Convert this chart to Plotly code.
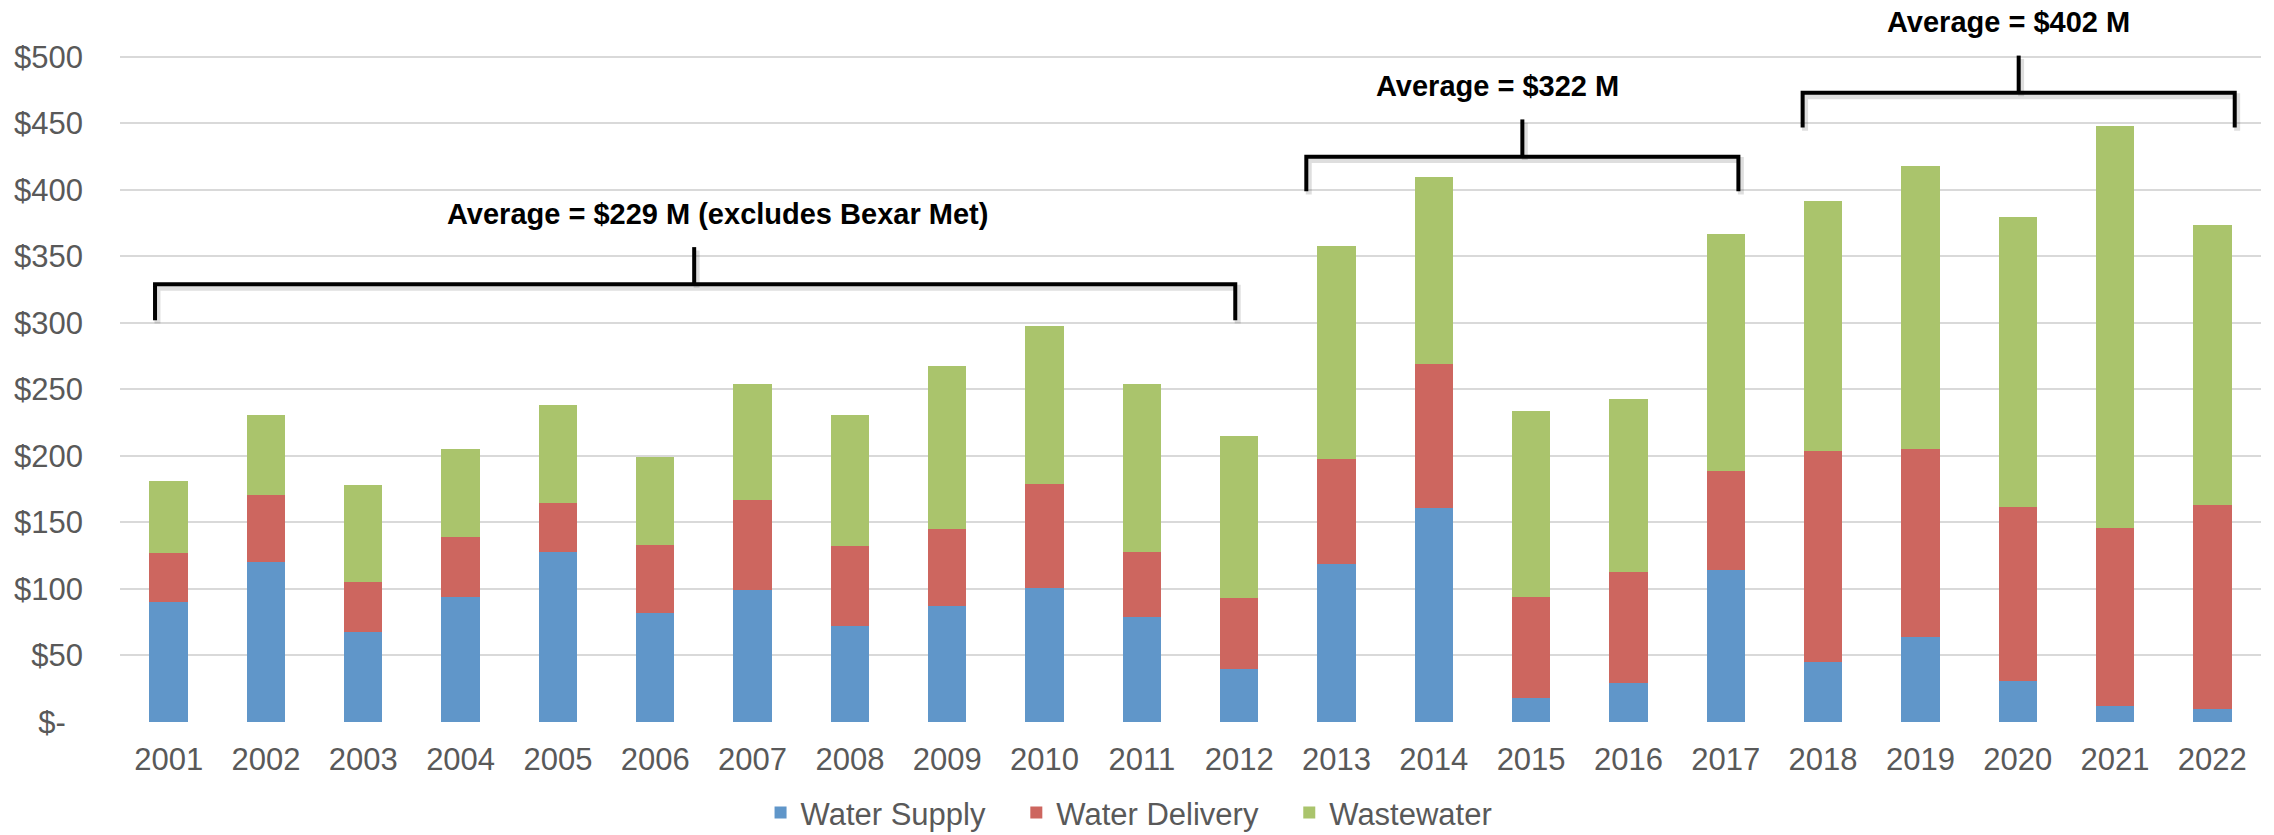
import plotly.graph_objects as go

# Annual capital spending by program, $ millions
years = [str(y) for y in range(2001, 2023)]
water_supply = [90, 120, 68, 94, 128, 82, 99, 72, 87, 101, 79, 40,
                119, 161, 18, 29, 114, 45, 64, 31, 12, 10]
water_delivery = [37, 51, 37, 45, 37, 51, 68, 60, 58, 78, 49, 53,
                  79, 108, 76, 84, 75, 159, 141, 131, 134, 153]
wastewater = [54, 60, 73, 66, 73, 66, 87, 99, 123, 119, 126, 122,
              160, 141, 140, 130, 178, 188, 213, 218, 302, 211]

y_ticks = [0, 50, 100, 150, 200, 250, 300, 350, 400, 450, 500]
y_tick_labels = ["$-\u2007", "$50", "$100", "$150", "$200", "$250",
                 "$300", "$350", "$400", "$450", "$500"]

FONT = "Liberation Sans, Arial, sans-serif"
GRAY = "#595959"
PAD = "\u00a0" * 3  # extra room between legend entries, like the Excel legend

totals = [a + b + c for a, b, c in zip(water_supply, water_delivery, wastewater)]


def avg(i0, i1):
    vals = totals[i0:i1 + 1]
    return round(sum(vals) / len(vals))


fig = go.Figure()
fig.add_trace(go.Bar(x=years, y=water_supply, name="Water Supply" + PAD,
                     marker=dict(color="#6096C9", line=dict(width=0))))
fig.add_trace(go.Bar(x=years, y=water_delivery, name="Water Delivery" + PAD,
                     marker=dict(color="#CD665F", line=dict(width=0))))
fig.add_trace(go.Bar(x=years, y=wastewater, name="Wastewater",
                     marker=dict(color="#AAC46C", line=dict(width=0))))

# brackets: (left, right, middle, bottom, bar level, tick top, label y, label x, text)
brackets = [
    (-0.14, 10.96, 5.40, 302, 329, 357, 382, 5.64,
     f"Average = ${avg(0, 11)} M (excludes Bexar Met)"),
    (11.69, 16.13, 13.91, 399, 425, 453, 478, 13.65,
     f"Average = ${avg(12, 16)} M"),
    (16.79, 21.23, 19.01, 447, 473, 501, 526, 18.91,
     f"Average = ${avg(17, 21)} M"),
]

line = dict(color="black", width=4)
shadow = dict(color="rgba(0,0,0,0.13)", width=6)
for left, right, mid, bottom, level, top, ty, tx, text in brackets:
    dx, dy = 0.025, -2.5
    fig.add_shape(type="path", xref="x", yref="y", line=shadow,
                  path=(f"M {left + dx},{bottom + dy} L {left + dx},{level + dy} "
                        f"L {right + dx},{level + dy} L {right + dx},{bottom + dy}"))
    fig.add_shape(type="line", xref="x", yref="y", line=shadow,
                  x0=mid + dx, x1=mid + dx, y0=level + dy, y1=top + dy)
    fig.add_shape(type="path", xref="x", yref="y", line=line,
                  path=f"M {left},{bottom} L {left},{level} L {right},{level} L {right},{bottom}")
    fig.add_shape(type="line", xref="x", yref="y", line=line,
                  x0=mid, x1=mid, y0=level, y1=top)
    fig.add_annotation(x=tx, y=ty, xref="x", yref="y", text=f"<b>{text}</b>",
                       showarrow=False, font=dict(family=FONT, size=29, color="black"))

fig.update_layout(
    barmode="stack",
    bargap=0.606,
    width=2274, height=835,
    margin=dict(l=120, r=13, t=17, b=113, pad=0, autoexpand=False),
    paper_bgcolor="white", plot_bgcolor="white",
    font=dict(family=FONT, size=31, color=GRAY),
    legend=dict(orientation="h", x=0.4713, xanchor="center", y=-0.129, yanchor="middle",
                font=dict(family=FONT, size=31, color=GRAY), traceorder="normal"),
    showlegend=True,
)
fig.update_xaxes(type="category", showgrid=False, showline=False, ticks="",
                 automargin=False,
                 tickfont=dict(family=FONT, size=31, color=GRAY), ticklabelstandoff=16)
fig.update_yaxes(range=[0, 530], tickvals=y_ticks, ticktext=y_tick_labels,
                 showgrid=True, gridcolor="#D9D9D9", gridwidth=2, zeroline=False,
                 showline=False, ticks="", ticklabelstandoff=36, automargin=False,
                 tickfont=dict(family=FONT, size=31, color=GRAY))

# drop the browser's default 8px body margin so the figure fills the window
fig.write_html("out.html", config={"displayModeBar": False},
               post_script="document.body.style.margin = '0';")
